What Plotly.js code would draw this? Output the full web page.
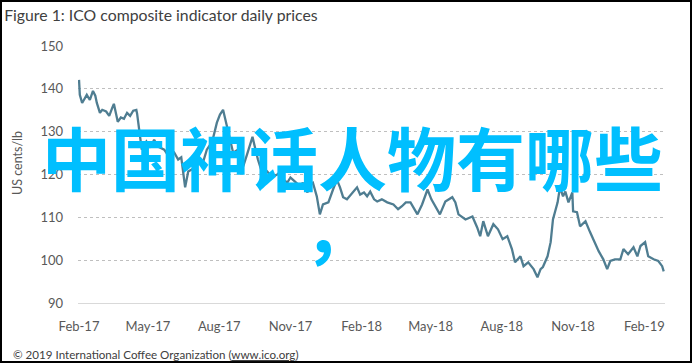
<!DOCTYPE html>
<html>
<head>
<meta charset="utf-8">
<script src="https://cdn.plot.ly/plotly-3.0.1.min.js"></script>
<style>html,body{margin:0;padding:0;background:#fff;}#chart{width:695px;height:364px;}</style>
</head>
<body>
<div id="chart"></div>
<script>
var dates = ["2017-02-01","2017-02-02","2017-02-05","2017-02-09","2017-02-11","2017-02-15","2017-02-19","2017-02-22","2017-02-24","2017-02-28",
"2017-03-03","2017-03-08","2017-03-12","2017-03-16","2017-03-18","2017-03-21","2017-03-23","2017-03-27","2017-03-31",
"2017-04-04","2017-04-08","2017-04-12","2017-04-16","2017-04-17","2017-04-20","2017-04-23","2017-04-29",
"2017-05-04","2017-05-09","2017-05-14","2017-05-22","2017-05-28",
"2017-06-04","2017-06-09","2017-06-13","2017-06-18","2017-06-22","2017-06-27",
"2017-07-03","2017-07-11","2017-07-16","2017-07-23","2017-07-29",
"2017-08-02","2017-08-06","2017-08-09","2017-08-13","2017-08-19","2017-08-25",
"2017-09-01","2017-09-06","2017-09-13","2017-09-16","2017-09-20","2017-09-27",
"2017-10-02","2017-10-08","2017-10-15","2017-10-19","2017-10-23","2017-10-28",
"2017-11-01","2017-11-04","2017-11-10","2017-11-14","2017-11-17","2017-11-23","2017-11-26","2017-11-30",
"2017-12-05","2017-12-09","2017-12-13","2017-12-20","2017-12-26","2017-12-31",
"2018-01-04","2018-01-08","2018-01-13","2018-01-20","2018-01-26","2018-01-30",
"2018-02-04","2018-02-08","2018-02-12","2018-02-17","2018-02-21","2018-02-27",
"2018-03-06","2018-03-14","2018-03-20","2018-03-25","2018-03-30",
"2018-04-05","2018-04-14","2018-04-20","2018-04-27",
"2018-05-02","2018-05-07","2018-05-13","2018-05-20","2018-05-29",
"2018-06-02","2018-06-06","2018-06-15","2018-06-24","2018-06-30",
"2018-07-04","2018-07-08","2018-07-14","2018-07-21","2018-07-27",
"2018-08-02","2018-08-08","2018-08-14","2018-08-18","2018-08-25","2018-08-29",
"2018-09-04","2018-09-11","2018-09-16","2018-09-20","2018-09-23","2018-09-29",
"2018-10-03","2018-10-06","2018-10-12","2018-10-15","2018-10-19","2018-10-22","2018-10-26","2018-10-31",
"2018-11-01","2018-11-06","2018-11-10","2018-11-17","2018-11-23","2018-11-27",
"2018-12-04","2018-12-10","2018-12-15","2018-12-19","2018-12-25",
"2019-01-01","2019-01-05","2019-01-11","2019-01-18","2019-01-23","2019-01-27",
"2019-02-02","2019-02-06","2019-02-13","2019-02-19","2019-02-24","2019-02-26"];

var prices = [142.1,138.6,136.7,138.1,138.6,137.4,139.5,138.4,136.7,134.4,
135.1,134.7,133.7,135.6,136.5,134.0,132.3,133.3,133.0,
134.4,133.7,134.9,135.1,134.2,130.5,125.8,127.7,
126.3,128.1,126.5,125.8,124.2,
125.1,123.5,124.0,117.0,120.7,121.2,
122.3,122.8,125.8,127.7,132.1,
134.0,135.1,132.8,129.3,125.1,125.8,
121.9,124.7,128.8,126.5,123.5,119.5,
120.7,119.5,120.0,120.7,118.8,118.1,
119.3,118.8,117.7,117.2,118.1,115.8,117.7,118.1,
114.9,110.7,113.0,113.5,116.5,118.8,
117.0,114.7,114.2,115.8,117.0,115.3,
115.8,114.9,116.0,114.2,113.7,114.2,
113.5,113.0,111.9,112.6,113.5,
113.5,110.7,113.0,116.5,
114.2,112.6,110.7,113.7,114.7,
113.5,110.7,109.5,110.2,107.7,
105.6,109.1,105.6,108.4,107.2,
104.9,105.6,102.6,99.5,100.9,98.6,
99.5,97.9,96.0,97.9,98.4,100.9,
104.2,109.5,113.5,117.0,114.9,116.0,113.5,115.8,
111.4,111.2,107.9,109.1,106.5,104.9,
102.1,100.2,97.9,99.8,100.2,
100.2,102.6,101.4,103.0,100.9,103.3,
104.2,100.9,100.2,99.8,98.6,97.4];

var tickDates = ["2017-02-01","2017-05-01","2017-08-01","2017-11-01","2018-02-01","2018-05-01","2018-08-01","2018-11-01","2019-02-01"];
var tickLabels = ["Feb-17","May-17","Aug-17","Nov-17","Feb-18","May-18","Aug-18","Nov-18","Feb-19"];
var yTicks = [90,100,110,120,130,140,150];

var titleText = "Figure 1: ICO composite indicator daily prices";
var yTitle = "US cents/lb";
var footerText = "© 2019 International Coffee Organization (<span style=\"text-decoration:underline\">www.ico.org</span>)";
var overlayLine1 = "中国神话人物有哪些";
var overlayLine2 = "，";

var font = "Lato, 'Open Sans', 'DejaVu Sans', sans-serif";
var cjk = "'Noto Sans CJK SC', sans-serif";

var trace = {
  x: dates, y: prices, type: "scatter", mode: "lines",
  line: {color: "#4f7d91", width: 2.3},
  hoverinfo: "skip"
};

function px(x) { return (x - 78) / 587; }
function py(y) { return (303 - y) / 257; }

var layout = {
  width: 695, height: 364,
  margin: {l: 78, r: 30, t: 46, b: 61, pad: 0},
  paper_bgcolor: "#ffffff", plot_bgcolor: "#ffffff",
  showlegend: false,
  title: {
    text: titleText,
    font: {family: font, size: 15.8, color: "#404040"},
    xref: "container", x: 0.006, xanchor: "left",
    yref: "container", y: 0.958, yanchor: "middle"
  },
  xaxis: {
    type: "date",
    range: ["2017-01-30T16:00:00", "2019-02-27T16:00:00"],
    tickvals: tickDates, ticktext: tickLabels,
    showgrid: false, zeroline: false,
    showline: true, linecolor: "#d9d9d9", linewidth: 1,
    ticks: "", ticklabelstandoff: 11,
    tickfont: {family: font, size: 13, color: "#595959"}
  },
  yaxis: {
    range: [90, 150],
    tickvals: yTicks,
    showgrid: true, gridcolor: "#bfbfbf", griddash: "dot", gridwidth: 1,
    zeroline: false, showline: false,
    ticks: "", ticklabelstandoff: 14,
    tickfont: {family: font, size: 13, color: "#595959"}
  },
  annotations: [
    {text: yTitle, xref: "paper", yref: "paper", x: px(17), y: py(163),
     xanchor: "center", yanchor: "middle", textangle: -90, showarrow: false,
     font: {family: font, size: 12.5, color: "#595959"}},
    {text: footerText, xref: "paper", yref: "paper", x: px(11), y: py(354),
     xanchor: "left", yanchor: "middle", showarrow: false,
     font: {family: font, size: 11.6, color: "#404040"}},
    {text: overlayLine1, xref: "paper", yref: "paper", x: px(352), y: py(156),
     xanchor: "center", yanchor: "middle", showarrow: false,
     font: {family: cjk, size: 69, color: "#00bfff", weight: 700}},
    {text: overlayLine2, xref: "paper", yref: "paper", x: px(338), y: py(227),
     xanchor: "center", yanchor: "middle", showarrow: false,
     font: {family: cjk, size: 69, color: "#00bfff", weight: 700}}
  ],
  shapes: [
    {type: "rect", xref: "paper", yref: "paper",
     x0: px(1), x1: px(691), y0: py(362), y1: py(1),
     line: {color: "#000000", width: 2}, fillcolor: "rgba(0,0,0,0)", layer: "above"}
  ]
};

Plotly.newPlot("chart", [trace], layout, {staticPlot: true, displayModeBar: false});
</script>
</body>
</html>
